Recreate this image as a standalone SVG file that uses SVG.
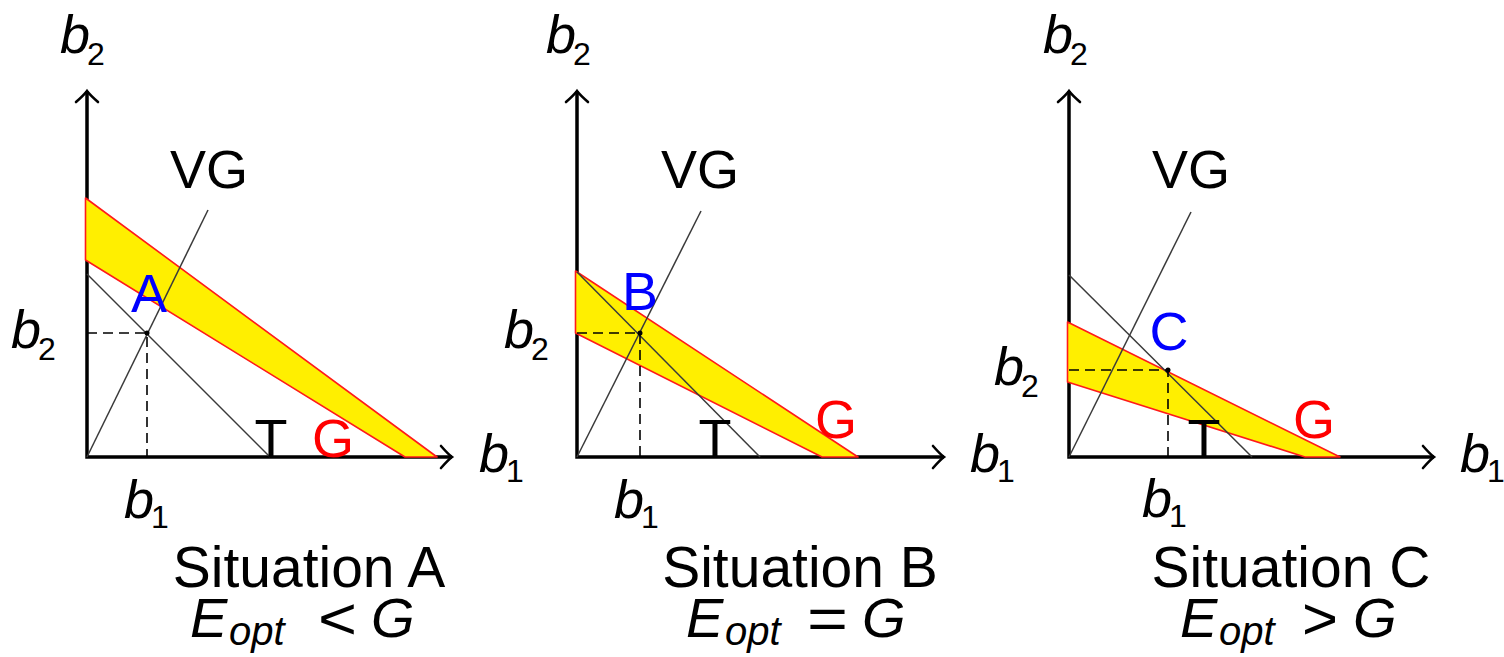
<svg xmlns="http://www.w3.org/2000/svg" width="1504" height="657" viewBox="0 0 1504 657">
<style>
  .axis{stroke:#000;stroke-width:3.5;fill:none}
  .band{fill:#ffef00;stroke:#ff1a1a;stroke-width:1.6;stroke-linejoin:round}
  .thin{stroke:#3a3a3a;stroke-width:1.5;fill:none}
  .dash{stroke:#000;stroke-width:1.6;stroke-dasharray:10 6;fill:none}
  .lbl{font-family:"Liberation Sans",Arial,sans-serif;font-size:54px;fill:#000}
  .blue{fill:#0000ff}
  .red{fill:#ff0000}
  .m{font-family:"Liberation Sans",Arial,sans-serif;font-style:italic;font-size:54px;fill:#000}
  .sub{font-style:normal;font-size:32px}
  .cap{font-family:"Liberation Sans",Arial,sans-serif;font-size:57px;fill:#000;text-anchor:middle}
  .capm{font-family:"Liberation Sans",Arial,sans-serif;font-size:56px;fill:#000}
  .rel{font-family:"Liberation Sans",Arial,sans-serif;font-size:60px;fill:#000}
  .it{font-style:italic}
  .opt{font-style:italic;font-size:40px}
  .mid{text-anchor:middle}
</style>
<defs>
  <marker id="arr" markerUnits="userSpaceOnUse" markerWidth="30" markerHeight="30" viewBox="-15 -15 30 30" refX="0" refY="0" orient="auto-start-reverse">
    <path d="M -11,-11 Q -4,-3 0,0 Q -4,3 -11,11" stroke="#000" stroke-width="2.6" fill="none" stroke-linecap="round"/>
  </marker>
</defs>

<!-- Panel A -->
<g id="panelA">
  <path class="axis" d="M 87,91 L 87,457 L 452,457" marker-start="url(#arr)" marker-end="url(#arr)"/>
  <polygon class="band" points="85.5,198 437,457 405,457 85.5,260"/>
  <g id="connectorsA">
    <line class="thin" x1="87" y1="274" x2="270" y2="457"/>
    <line class="thin" x1="87" y1="457" x2="208" y2="210"/>
    <polyline class="dash" points="87,333 147,333 147,457"/>
    <circle cx="147" cy="333" r="2.5" fill="#000"/>
  </g>
  <text class="lbl mid" x="209" y="188">VG</text>
  <text class="lbl blue mid" x="149" y="312">A</text>
  <text class="lbl mid" x="271" y="457">T</text>
  <text class="lbl red mid" x="333" y="457">G</text>
  <text class="m" x="60" y="53">b<tspan class="sub" dx="-3" dy="12">2</tspan></text>
  <text class="m" x="11" y="348">b<tspan class="sub" dx="-3" dy="12">2</tspan></text>
  <text class="m" x="124" y="518">b<tspan class="sub" dx="-3" dy="10">1</tspan></text>
  <text class="m" x="479" y="472">b<tspan class="sub" dx="-3" dy="10">1</tspan></text>
  <text class="cap" x="309" y="587">Situation A</text>
  <text class="capm" x="190" y="637"><tspan class="it">E</tspan><tspan class="opt" x="229" y="645">opt</tspan></text>
  <text class="rel" x="318" y="639" textLength="39" lengthAdjust="spacingAndGlyphs">&lt;</text>
  <text class="capm it" x="371" y="637">G</text>
</g>

<!-- Panel B -->
<g id="panelB">
  <path class="axis" d="M 577,91 L 577,457 L 944,457" marker-start="url(#arr)" marker-end="url(#arr)"/>
  <polygon class="band" points="575.5,271 858,457 822,457 575.5,333"/>
  <g id="connectorsB">
    <line class="thin" x1="577" y1="272" x2="760" y2="457"/>
    <line class="thin" x1="577" y1="457" x2="701" y2="211"/>
    <polyline class="dash" points="577,333 640,333 640,457"/>
    <circle cx="640" cy="333" r="2.5" fill="#000"/>
  </g>
  <text class="lbl mid" x="700" y="188">VG</text>
  <text class="lbl blue mid" x="640" y="310">B</text>
  <text class="lbl mid" x="715" y="457">T</text>
  <text class="lbl red mid" x="836" y="438">G</text>
  <text class="m" x="546" y="53">b<tspan class="sub" dx="-3" dy="12">2</tspan></text>
  <text class="m" x="504" y="348">b<tspan class="sub" dx="-3" dy="12">2</tspan></text>
  <text class="m" x="614" y="518">b<tspan class="sub" dx="-3" dy="10">1</tspan></text>
  <text class="m" x="970" y="472">b<tspan class="sub" dx="-3" dy="10">1</tspan></text>
  <text class="cap" x="800" y="587">Situation B</text>
  <text class="capm" x="686" y="637"><tspan class="it">E</tspan><tspan class="opt" x="725" y="645">opt</tspan></text>
  <text class="rel" x="807" y="639" textLength="41" lengthAdjust="spacingAndGlyphs">=</text>
  <text class="capm it" x="862" y="637">G</text>
</g>

<!-- Panel C -->
<g id="panelC">
  <path class="axis" d="M 1069,91 L 1069,457 L 1434,457" marker-start="url(#arr)" marker-end="url(#arr)"/>
  <polygon class="band" points="1067.5,322 1340,457 1305,457 1067.5,382"/>
  <g id="connectorsC">
    <line class="thin" x1="1069" y1="275" x2="1252" y2="457"/>
    <line class="thin" x1="1069" y1="457" x2="1191" y2="212"/>
    <polyline class="dash" points="1069,370 1168,370 1168,457"/>
    <circle cx="1168" cy="370" r="2.5" fill="#000"/>
  </g>
  <text class="lbl mid" x="1191" y="188">VG</text>
  <text class="lbl blue mid" x="1169" y="350">C</text>
  <text class="lbl mid" x="1204" y="457">T</text>
  <text class="lbl red mid" x="1314" y="438">G</text>
  <text class="m" x="1043" y="53">b<tspan class="sub" dx="-3" dy="12">2</tspan></text>
  <text class="m" x="994" y="385">b<tspan class="sub" dx="-3" dy="12">2</tspan></text>
  <text class="m" x="1142" y="517">b<tspan class="sub" dx="-3" dy="10">1</tspan></text>
  <text class="m" x="1460" y="472">b<tspan class="sub" dx="-3" dy="10">1</tspan></text>
  <text class="cap" x="1291" y="587">Situation C</text>
  <text class="capm" x="1180" y="637"><tspan class="it">E</tspan><tspan class="opt" x="1219" y="645">opt</tspan></text>
  <text class="rel" x="1302" y="639" textLength="36" lengthAdjust="spacingAndGlyphs">&gt;</text>
  <text class="capm it" x="1353" y="637">G</text>
</g>
</svg>
